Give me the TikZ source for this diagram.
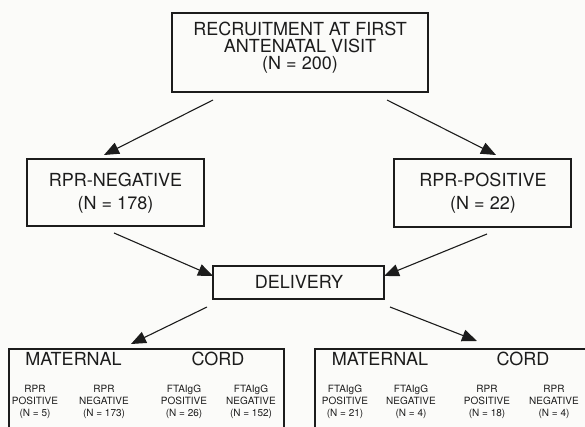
\documentclass[tikz,border=0pt]{standalone}
\usepackage{fontspec}
\setmainfont{TeX Gyre Heros}
\usetikzlibrary{arrows.meta}
\definecolor{ink}{HTML}{1C1C1C}
\definecolor{bg}{HTML}{FBFBF9}
\begin{document}
\begin{tikzpicture}[x=1pt,y=-1pt,
  box/.style={draw=ink, line width=1.1pt},
  big/.style={font=\fontsize{18}{16}\selectfont, text=ink, inner sep=0pt, anchor=base},
  small/.style={font=\fontsize{10}{12}\selectfont, text=ink, inner sep=0pt, anchor=base},
  arr/.style={draw=ink, line width=1.1pt, -{Triangle[length=15pt,width=12pt]}}]
\fill[bg] (0,0) rectangle (585,427);
\useasboundingbox (0,0) rectangle (585,427);
\clip (0,0) rectangle (585,427);

% boxes
\node[box, minimum width=256pt, minimum height=79pt] (top) at (300,52.5) {};
\node[box, minimum width=177pt, minimum height=67pt] (neg) at (115.5,192.5) {};
\node[box, minimum width=177pt, minimum height=68pt] (pos) at (482.5,193) {};
\node[box, minimum width=171pt, minimum height=33pt] (del) at (298.5,282.5) {};
\node[box, minimum width=275pt, minimum height=100pt] (matL) at (146.5,399) {};
\node[box, minimum width=295pt, minimum height=100pt] (matR) at (462.5,399) {};

% top text
\node[big] (t1) at (300,36) {RECRUITMENT AT FIRST};
\node[big] (t2) at (300,52.5) {ANTENATAL VISIT};
\node[big] (t3) at (300,70) {(N = 200)};
% second level
\node[big] (n1) at (115.5,186.5) {RPR-NEGATIVE};
\node[big] (n2) at (115.5,209.5) {(N = 178)};
\node[big] (p1) at (483,186.5) {RPR-POSITIVE};
\node[big] (p2) at (483,209.5) {(N = 22)};
\node[big] (d1) at (299,288.5) {DELIVERY};
% bottom headings
\node[big] (hL1) at (73.5,365) {MATERNAL};
\node[big] (hL2) at (218,365) {CORD};
\node[big] (hR1) at (380,365) {MATERNAL};
\node[big] (hR2) at (523,365) {CORD};

% bottom left columns
\node[small] (l11) at (35,392) {RPR};
\node[small] (l12) at (35,404) {POSITIVE};
\node[small] (l13) at (35,416) {(N = 5)};
\node[small] (l21) at (104,392) {RPR};
\node[small] (l22) at (104,404) {NEGATIVE};
\node[small] (l23) at (104,416) {(N = 173)};
\node[small] (l31) at (184,392) {FTAIgG};
\node[small] (l32) at (184,404) {POSITIVE};
\node[small] (l33) at (184,416) {(N = 26)};
\node[small] (l41) at (251,392) {FTAIgG};
\node[small] (l42) at (251,404) {NEGATIVE};
\node[small] (l43) at (251,416) {(N = 152)};
% bottom right columns
\node[small] (r11) at (345,392) {FTAIgG};
\node[small] (r12) at (345,404) {POSITIVE};
\node[small] (r13) at (345,416) {(N = 21)};
\node[small] (r21) at (411,392) {FTAIgG};
\node[small] (r22) at (411,404) {NEGATIVE};
\node[small] (r23) at (411,416) {(N = 4)};
\node[small] (r31) at (487,392) {RPR};
\node[small] (r32) at (487,404) {POSITIVE};
\node[small] (r33) at (487,416) {(N = 18)};
\node[small] (r41) at (554,392) {RPR};
\node[small] (r42) at (554,404) {NEGATIVE};
\node[small] (r43) at (554,416) {(N = 4)};

% arrows
\coordinate (a1s) at (213,100); \coordinate (a1e) at (104,155);
\coordinate (a2s) at (387,100); \coordinate (a2e) at (496,155);
\coordinate (a3s) at (114,233); \coordinate (a3e) at (213,276);
\coordinate (a4s) at (487,234); \coordinate (a4e) at (384,276);
\coordinate (a5s) at (207,307); \coordinate (a5e) at (131,344);
\coordinate (a6s) at (390,307); \coordinate (a6e) at (477,341);
\draw[arr] (a1s) -- (a1e);
\draw[arr] (a2s) -- (a2e);
\draw[arr] (a3s) -- (a3e);
\draw[arr] (a4s) -- (a4e);
\draw[arr] (a5s) -- (a5e);
\draw[arr] (a6s) -- (a6e);
\end{tikzpicture}
\end{document}
